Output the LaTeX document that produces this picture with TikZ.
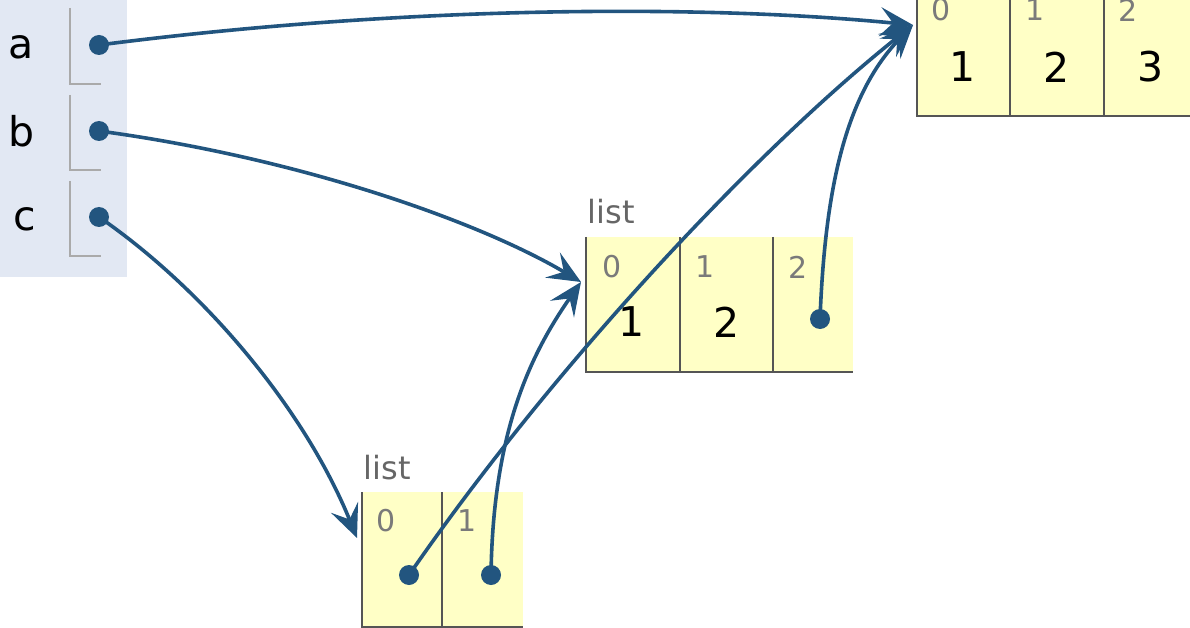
\documentclass[tikz,border=0pt]{standalone}
\usepackage{fontspec}
\setmainfont{DejaVu Sans}
\usetikzlibrary{arrows.meta}
\definecolor{cellyellow}{HTML}{FFFFC6}
\definecolor{panelblue}{HTML}{E2E8F3}
\definecolor{arrowblue}{HTML}{22557F}
\definecolor{cellborder}{HTML}{555555}
\definecolor{idxgray}{HTML}{7A7A7A}
\definecolor{bracketgray}{HTML}{AAAAAA}
\tikzset{
  ptr/.style={draw=arrowblue, line width=3.6pt, -{Stealth[length=33pt,width=29pt,inset=13pt]}},
  dotnode/.style={circle, fill=arrowblue, inner sep=0pt, minimum size=20pt},
  varlabel/.style={font=\fontsize{41}{48}\selectfont, text=black},
  valtext/.style={font=\fontsize{41}{48}\selectfont, text=black},
  idxtext/.style={font=\fontsize{30}{34}\selectfont, text=idxgray},
  listlabel/.style={font=\fontsize{32}{38}\selectfont, text=cellborder!90},
  cellline/.style={draw=cellborder, line width=2.8pt},
  bracket/.style={draw=bracketgray, line width=2.6pt},
}
\begin{document}
\begin{tikzpicture}[x=1pt,y=-1pt]
\useasboundingbox (0,0) rectangle (1190,628);
\clip (0,0) rectangle (1190,628);
% frame panel
\fill[panelblue] (0,-5) rectangle (127,277);
\node[varlabel] (la) at (21,47) {a};
\node[varlabel] (lb) at (22,131) {b};
\node[varlabel] (lc) at (25,219) {c};
\draw[bracket] (70,8) -- (70,84) -- (101,84);
\draw[bracket] (70,95) -- (70,170) -- (101,170);
\draw[bracket] (70,181) -- (70,256) -- (101,256);
\node[dotnode] (da) at (99,45) {};
\node[dotnode] (db) at (99,131) {};
\node[dotnode] (dc) at (99,217) {};
% top list (1,2,3)
\fill[cellyellow] (917,-20) rectangle (1200,116);
\draw[cellline] (917,-20) -- (917,116) -- (1200,116);
\draw[cellline] (1010,-20) -- (1010,116);
\draw[cellline] (1104,-20) -- (1104,116);
\node[idxtext] (t0) at (941,10) {0};
\node[idxtext] (t1) at (1035,10) {1};
\node[idxtext] (t2) at (1128,10) {2};
\node[valtext] (tv0) at (963,67) {1};
\node[valtext] (tv1) at (1057,67) {2};
\node[valtext] (tv2) at (1151,67) {3};
\coordinate (toplist) at (913,25);
% middle list
\node[listlabel, anchor=base west] (ml) at (584,224) {list};
\fill[cellyellow] (586,237) rectangle (853,372);
\draw[cellline] (586,237) -- (586,372) -- (853,372);
\draw[cellline] (680,237) -- (680,372);
\draw[cellline] (773,237) -- (773,372);
\node[idxtext] (m0) at (612,267) {0};
\node[idxtext] (m1) at (705,267) {1};
\node[idxtext] (m2) at (798,267) {2};
\node[valtext] (mv0) at (632,322) {1};
\node[valtext] (mv1) at (727,322) {2};
\node[dotnode] (md) at (820,319) {};
\coordinate (midlist) at (581,282);
% bottom list
\node[listlabel, anchor=base west] (bl) at (360,479) {list};
\fill[cellyellow] (362,492) rectangle (523,627);
\draw[cellline] (362,492) -- (362,627) -- (523,627);
\draw[cellline] (442,492) -- (442,627);
\node[idxtext] (b0) at (386,521) {0};
\node[idxtext] (b1) at (467,521) {1};
\node[dotnode] (bd0) at (409,575) {};
\node[dotnode] (bd1) at (491,575) {};
\coordinate (botlist) at (357,538);
% pointers
\draw[ptr] (da.center) .. controls (400,6) and (700,4) .. (toplist);
\draw[ptr] (db.center) .. controls (300,158) and (480,222) .. (midlist);
\draw[ptr] (dc.center) .. controls (205,290) and (305,410) .. (botlist);
\draw[ptr] (bd0.center) .. controls (559,358) and (763,144) .. (toplist);
\draw[ptr] (bd1.center) .. controls (493,432) and (530,355) .. (midlist);
\draw[ptr] (md.center) .. controls (825,190) and (845,95) .. (toplist);
\end{tikzpicture}
\end{document}
